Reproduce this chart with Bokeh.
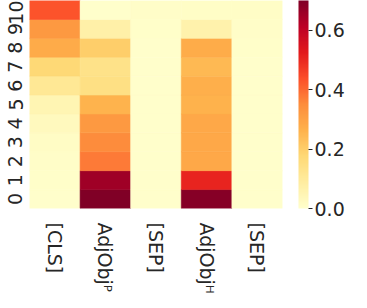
import numpy as np
import pandas as pd
from bokeh.plotting import figure
from bokeh.models import (ColumnDataSource, LinearColorMapper, ColorBar,
                          FixedTicker, PrintfTickFormatter)
from bokeh.palettes import YlOrRd9
from bokeh.embed import file_html
from bokeh.resources import INLINE

# ---------------- data ----------------
columns = ["[CLS]", "AdjObj\u1d3e", "[SEP]", "AdjObj\u1d34", "[SEP]"]
rows = ["0", "1", "2", "3", "4", "5", "6", "7", "8", "9", "10"]

# values per column, listed from row 0 (bottom) to row 10 (top)
cls_vals = [0.005, 0.008, 0.010, 0.015, 0.030, 0.050, 0.110, 0.175, 0.280, 0.320, 0.430]
adjp_vals = [0.700, 0.654, 0.375, 0.350, 0.320, 0.260, 0.145, 0.135, 0.200, 0.073, 0.003]
sep1_vals = [0.003, 0.003, 0.003, 0.003, 0.003, 0.003, 0.003, 0.003, 0.004, 0.008, 0.010]
adjh_vals = [0.690, 0.507, 0.287, 0.287, 0.287, 0.265, 0.270, 0.247, 0.277, 0.063, 0.012]
sep2_vals = [0.004, 0.004, 0.004, 0.004, 0.004, 0.004, 0.004, 0.004, 0.006, 0.010, 0.012]

value_range = [0.0, 0.7]
cbar_ticks = [0.0, 0.2, 0.4, 0.6]

# ---------------- build table ----------------
series = [cls_vals, adjp_vals, sep1_vals, adjh_vals, sep2_vals]
recs = []
for ci, vals in enumerate(series):
    for ri, v in enumerate(vals):
        recs.append({"x": ci + 0.5, "y": ri + 0.5, "v": v})
df = pd.DataFrame(recs)
src = ColumnDataSource(df)

base = list(YlOrRd9)[::-1]
def interp(pal, n):
    cols = [tuple(int(c[i:i + 2], 16) for i in (1, 3, 5)) for c in pal]
    out = []
    m = len(cols) - 1
    for k in range(n):
        t = k / (n - 1) * m
        i = min(int(t), m - 1)
        f = t - i
        c = [round(cols[i][j] + (cols[i + 1][j] - cols[i][j]) * f) for j in range(3)]
        out.append("#%02x%02x%02x" % tuple(c))
    return out
palette = interp(base, 256)

mapper = LinearColorMapper(palette=palette, low=value_range[0], high=value_range[1])

FONT = "DejaVu Sans"
FS = "19px"
TXT = "#262626"

p = figure(frame_width=253, frame_height=208, output_backend="svg",
           toolbar_location=None,
           x_range=(0, len(columns)), y_range=(0, len(rows)),
           min_border_left=29, min_border_right=0, min_border_top=0,
           min_border_bottom=88)
p.rect(x="x", y="y", width=1, height=1, source=src,
       fill_color={"field": "v", "transform": mapper},
       line_color={"field": "v", "transform": mapper}, line_width=0.6)

p.grid.visible = False
p.outline_line_color = None
p.background_fill_color = "white"
p.border_fill_color = "white"

p.xaxis.ticker = FixedTicker(ticks=[i + 0.5 for i in range(len(columns))])
p.xaxis.major_label_overrides = {i + 0.5: c for i, c in enumerate(columns)}
p.yaxis.ticker = FixedTicker(ticks=[i + 0.5 for i in range(len(rows))])
p.yaxis.major_label_overrides = {i + 0.5: r for i, r in enumerate(rows)}

for ax in (p.xaxis, p.yaxis):
    ax.axis_line_color = None
    ax.major_tick_line_color = None
    ax.minor_tick_line_color = None
    ax.major_tick_out = 0
    ax.major_tick_in = 0
    ax.major_label_text_font = FONT
    ax.major_label_text_font_size = FS
    ax.major_label_text_color = TXT
    ax.major_label_orientation = "vertical"
p.xaxis.major_label_standoff = 14
p.yaxis.major_label_standoff = 7

cb = ColorBar(color_mapper=mapper, ticker=FixedTicker(ticks=cbar_ticks),
              formatter=PrintfTickFormatter(format="%.1f"),
              width=10, padding=0, location=(16, 0),
              major_tick_out=4, major_tick_in=0, major_tick_line_color=TXT,
              major_tick_line_width=1.2,
              minor_tick_line_color=None, bar_line_color=None,
              border_line_color=None, background_fill_color=None,
              label_standoff=2,
              major_label_text_font=FONT, major_label_text_font_size=FS,
              major_label_text_color=TXT)
p.add_layout(cb, "right")

open("out.html", "w").write(file_html(p, INLINE))
